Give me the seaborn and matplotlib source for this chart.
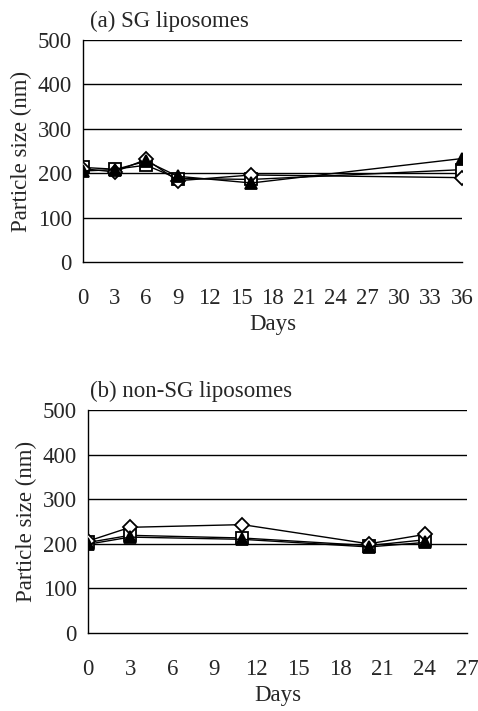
import matplotlib
matplotlib.use("Agg")
import matplotlib.pyplot as plt
import seaborn as sns
import pandas as pd

sns.set_style("white")
plt.rcParams['font.family'] = ['Liberation Serif', 'DejaVu Serif']

# (a) SG liposomes
days_a = [0, 3, 6, 9, 16, 36]
a_square = [213, 209, 218, 188, 186, 208]
a_diamond = [210, 203, 231, 183, 196, 190]
a_triangle = [205, 208, 227, 193, 178, 233]

# (b) non-SG liposomes
days_b = [0, 3, 11, 20, 24]
b_square = [203, 219, 213, 196, 209]
b_diamond = [206, 237, 243, 200, 221]
b_triangle = [199, 215, 210, 193, 203]

yticks = [0, 100, 200, 300, 400, 500]
xticks_a = [0, 3, 6, 9, 12, 15, 18, 21, 24, 27, 30, 33, 36]
xticks_b = [0, 3, 6, 9, 12, 15, 18, 21, 24, 27]

FS = 16.5

def make_df(days, sq, di, tr):
    rows = []
    for name, vals in [("square", sq), ("diamond", di), ("triangle", tr)]:
        for d, v in zip(days, vals):
            rows.append({"Days": d, "size": v, "series": name})
    return pd.DataFrame(rows)

markers = {"square": "s", "diamond": "D", "triangle": "^"}

fig = plt.figure(figsize=(4.78, 7.11), dpi=100)
ax1 = fig.add_axes([83/478, 1-262/711, 379/478, 222/711])
ax2 = fig.add_axes([88/478, 1-633/711, 379/478, 223/711])

def draw(ax, df, xticks, xmax, title, left_px):
    for y in yticks[1:]:
        ax.axhline(y, color='black', lw=1.0, zorder=1)
    for name in ["square", "diamond", "triangle"]:
        sub = df[df.series == name]
        face = 'black' if name == "triangle" else 'white'
        ms = 9 if name != "diamond" else 7.5
        sns.lineplot(data=sub, x="Days", y="size", ax=ax, color='black',
                     lw=1.0, marker=markers[name], markersize=ms,
                     markerfacecolor=face, markeredgecolor='black',
                     markeredgewidth=1.3, zorder=3)
    ax.set_xlim(0, xmax)
    ax.set_ylim(0, 500)
    ax.set_xticks(xticks)
    ax.set_yticks(yticks)
    ax.set_xticklabels([str(t) for t in xticks], fontsize=FS)
    ax.set_yticklabels([str(t) for t in yticks], fontsize=FS)
    ax.tick_params(axis='x', direction='in', length=5, width=1, color='black', pad=19)
    ax.tick_params(axis='y', length=0, pad=8)
    for s in ['top', 'right']:
        ax.spines[s].set_visible(False)
    for s in ['left', 'bottom']:
        ax.spines[s].set_color('black')
        ax.spines[s].set_linewidth(1.0)
    ax.set_xlabel("Days", fontsize=FS, labelpad=3)
    ax.set_ylabel("Particle size (nm)", fontsize=FS, labelpad=4)
    ax.set_title(title, fontsize=FS, loc='left', pad=9, x=(90-left_px)/379)
    ax.patch.set_alpha(0)

draw(ax1, make_df(days_a, a_square, a_diamond, a_triangle), xticks_a, 36, "(a) SG liposomes", 83)
draw(ax2, make_df(days_b, b_square, b_diamond, b_triangle), xticks_b, 27, "(b) non-SG liposomes", 88)

fig.savefig("out.png", dpi=100)
